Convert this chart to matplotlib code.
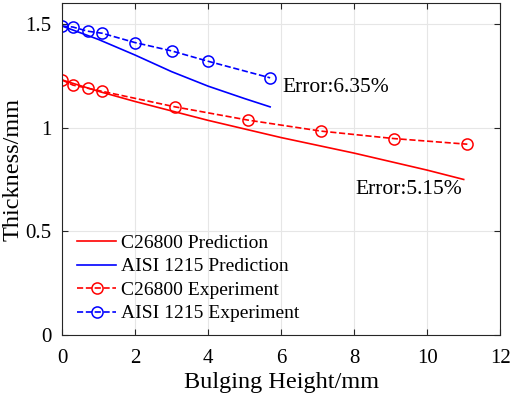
import matplotlib
matplotlib.use("Agg")
import matplotlib.pyplot as plt

FONT = "Liberation Serif"

# Prediction curves (solid)
c26800_pred_x = [0, 1, 2, 4, 6, 8, 10, 11]
c26800_pred_y = [1.23, 1.175, 1.126, 1.035, 0.952, 0.877, 0.795, 0.75]
aisi_pred_x = [0, 1, 2, 3, 4, 5, 5.7]
aisi_pred_y = [1.49, 1.425, 1.35, 1.27, 1.20, 1.14, 1.10]

# Experiment points (dashed + circles)
c26800_exp_x = [0, 0.3, 0.7, 1.1, 3.1, 5.1, 7.1, 9.1, 11.1]
c26800_exp_y = [1.23, 1.205, 1.19, 1.175, 1.10, 1.036, 0.983, 0.947, 0.92]
aisi_exp_x = [0, 0.3, 0.7, 1.1, 2, 3, 4, 5.7]
aisi_exp_y = [1.49, 1.485, 1.465, 1.455, 1.41, 1.37, 1.32, 1.24]

x_ticks = [0, 2, 4, 6, 8, 10, 12]
y_ticks = [0, 0.5, 1, 1.5]
y_tick_labels = ["0", "0.5", "1", "1.5"]

plt.rcParams["font.family"] = [FONT, "DejaVu Serif"]

fig = plt.figure(figsize=(5.12, 3.96), dpi=100)
ax = fig.add_axes([0.121, 0.154, 0.856, 0.838])

ax.plot(c26800_pred_x, c26800_pred_y, color="red", lw=1.2, label="C26800 Prediction")
ax.plot(aisi_pred_x, aisi_pred_y, color="blue", lw=1.2, label="AISI 1215 Prediction")
ax.plot(c26800_exp_x, c26800_exp_y, color="red", ls="--", lw=1.2, marker="o",
        mfc="none", ms=8, mew=1.1, label="C26800 Experiment")
ax.plot(aisi_exp_x, aisi_exp_y, color="blue", ls="--", lw=1.2, marker="o",
        mfc="none", ms=8, mew=1.1, label="AISI 1215 Experiment")

ax.text(6.03, 1.195, "Error:6.35%", fontsize=15.5, va="center", ha="left")
ax.text(8.03, 0.70, "Error:5.15%", fontsize=15.5, va="center", ha="left")

ax.set_xlim(0, 12)
ax.set_ylim(0, 1.6)
ax.set_xticks(x_ticks)
ax.set_yticks(y_ticks)
ax.set_yticklabels(y_tick_labels)
ax.tick_params(direction="in", labelsize=15, top=True, right=True, length=4,
               color="#262626")
ax.tick_params(axis="x", pad=10)
ax.tick_params(axis="y", pad=7.5)
ax.grid(True, color="#e6e6e6", lw=0.8)
ax.set_axisbelow(True)
for s in ax.spines.values():
    s.set_color("#262626")
    s.set_linewidth(0.8)

ax.set_xlabel("Bulging Height/mm", fontsize=17.5, labelpad=3)
ax.set_ylabel("Thickness/mm", fontsize=17.5, labelpad=1)

ax.legend(loc="lower left", frameon=False, fontsize=14, handlelength=2.0,
          handletextpad=0.25, labelspacing=0.3, borderaxespad=0.25,
          bbox_to_anchor=(0.006, 0.0))

fig.savefig("out.png", dpi=100)
